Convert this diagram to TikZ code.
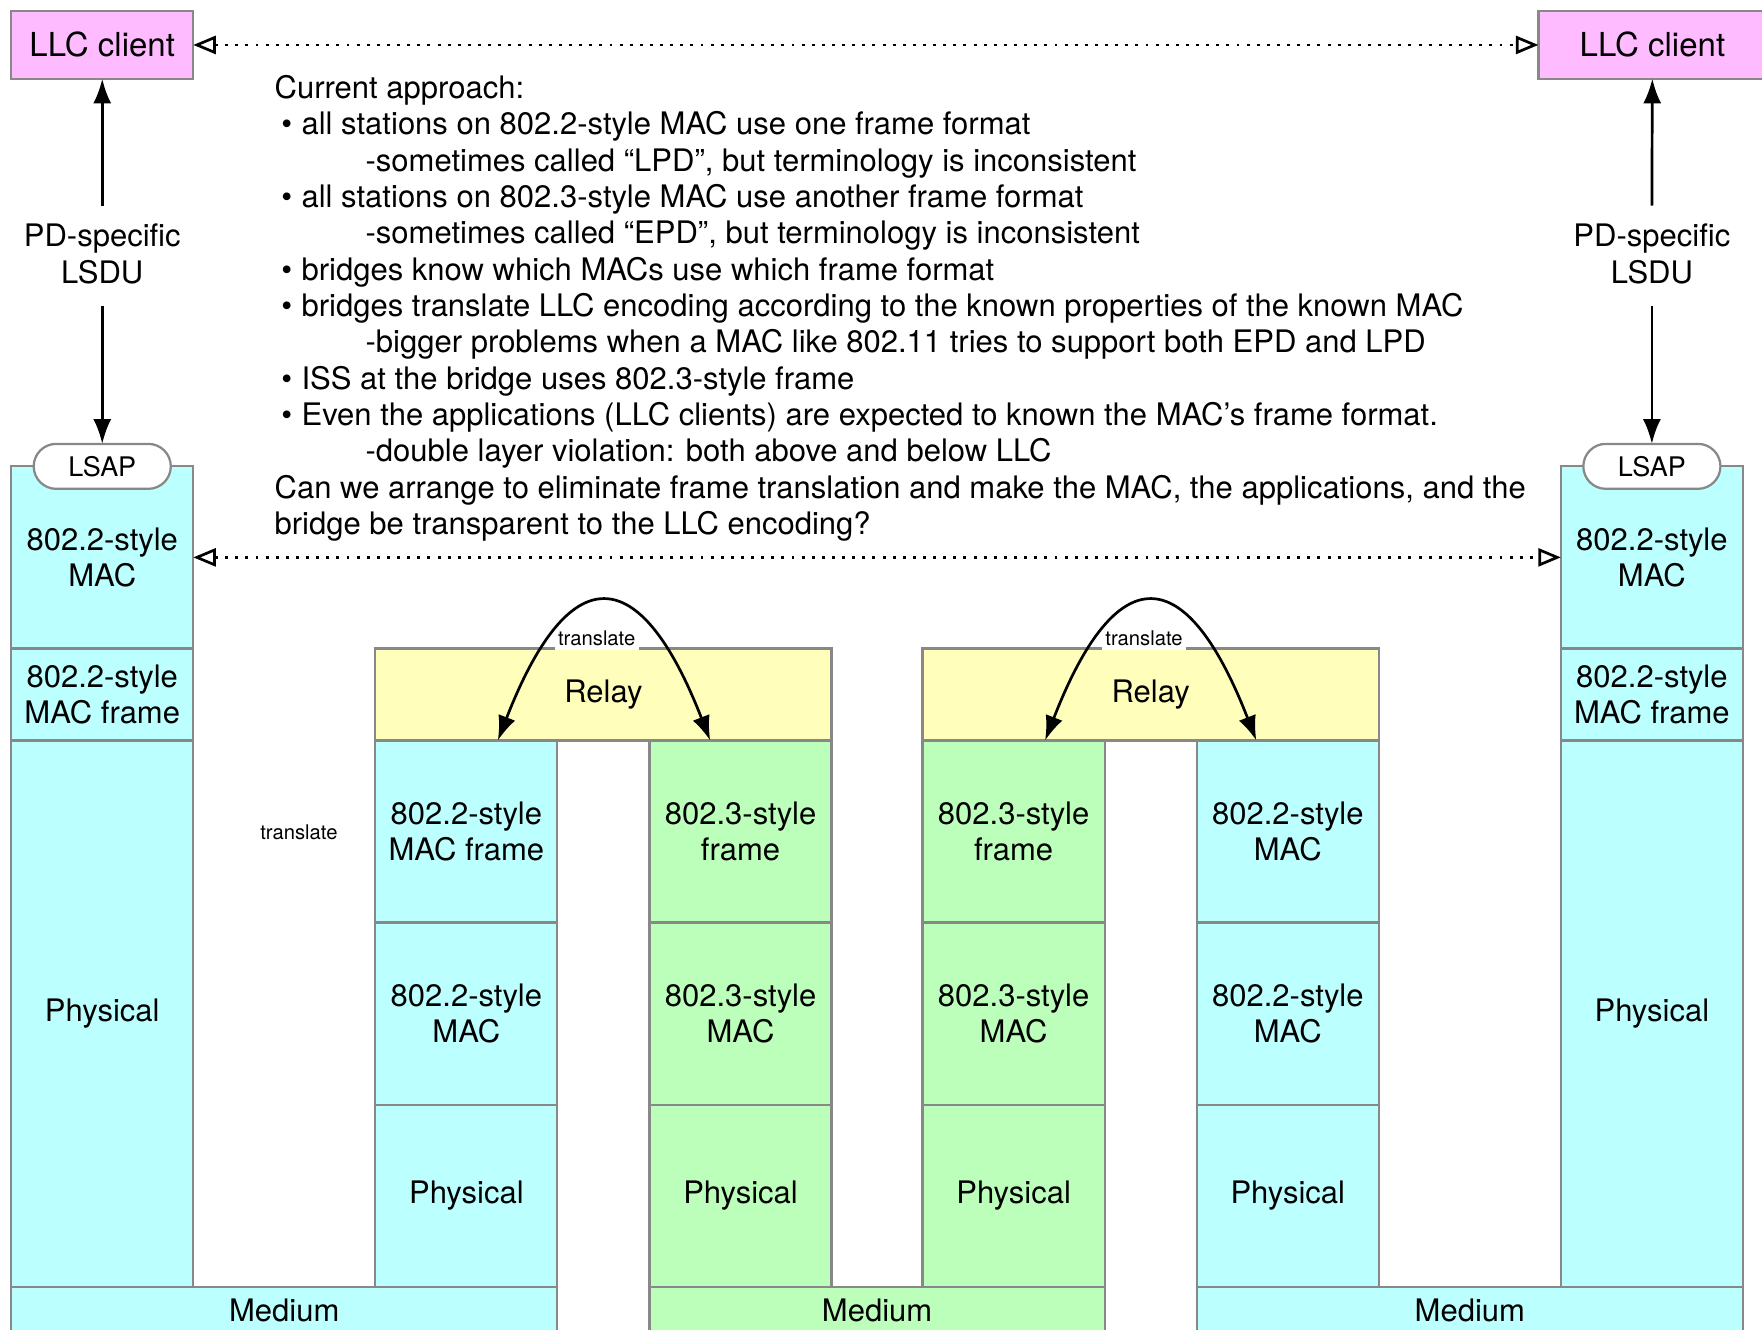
\documentclass[tikz,border=0pt]{standalone}
\usepackage{fontspec}
\setmainfont{TeX Gyre Heros}
\usetikzlibrary{arrows.meta}
\definecolor{pinkfill}{HTML}{FFBBFF}
\definecolor{cyanfill}{HTML}{BBFFFF}
\definecolor{greenfill}{HTML}{BBFFBB}
\definecolor{yellowfill}{HTML}{FFFFBB}
\definecolor{bordergray}{HTML}{888888}
\newcommand{\bodyfnt}{\fontsize{13.8}{16.2}\selectfont}
\newcommand{\smallfnt}{\fontsize{9}{10}\selectfont}
\tikzset{
  layer/.style={draw=bordergray, line width=1pt, inner sep=0pt, outer sep=0pt, align=center, font=\bodyfnt, text=black},
  colbox/.style={layer, minimum width=81pt},
  cyanbox/.style={colbox, fill=cyanfill},
  greenbox/.style={colbox, fill=greenfill},
  llcbox/.style={layer, fill=pinkfill, minimum height=30pt, font=\fontsize{14.7}{17}\selectfont},
  lsapbox/.style={draw=bordergray, line width=1pt, fill=white, rounded corners=10pt, minimum width=61pt, minimum height=20pt, inner sep=0pt, outer sep=0pt, font=\fontsize{12}{14}\selectfont},
  solidarrow/.style={line width=1.2pt, -{Latex[length=11pt,width=8pt]}},
  twoarrow/.style={line width=1.2pt, {Latex[length=11pt,width=8pt]}-{Latex[length=11pt,width=8pt]}},
  dotarrow/.style={line width=1.2pt, dash pattern=on 1.3pt off 3.2pt, {Triangle[open,length=10pt,width=8pt]}-{Triangle[open,length=10pt,width=8pt]}},
  bodytext/.style={anchor=base west, inner sep=0pt, font=\bodyfnt},
  trlabel/.style={fill=white, inner sep=1.5pt, font=\smallfnt},
  pdlabel/.style={align=center, inner sep=0pt, font=\bodyfnt}
}
\begin{document}
\begin{tikzpicture}[x=0.5pt,y=-0.5pt]
\useasboundingbox (0,0) rectangle (1568,1183);

% LLC clients
\node[llcbox, minimum width=81pt] (llcL) at (91,40) {LLC client};
\node[llcbox, minimum width=101.5pt] (llcR) at (1470.5,40) {LLC client};

% left station column
\node[cyanbox, minimum height=81pt] (lmac) at (91,496) {802.2-style\\MAC};
\node[cyanbox, minimum height=41pt] (lframe) at (91,618) {802.2-style\\MAC frame};
\node[cyanbox, minimum height=243pt] (lphys) at (91,902) {Physical};

% right station column
\node[cyanbox, minimum height=81pt] (rmac) at (1470,496) {802.2-style\\MAC};
\node[cyanbox, minimum height=41pt] (rframe) at (1470,618) {802.2-style\\MAC frame};
\node[cyanbox, minimum height=243pt] (rphys) at (1470,902) {Physical};

% bridge 1
\node[layer, fill=yellowfill, minimum width=203pt, minimum height=41pt] (relay1) at (537,618) {Relay};
\node[cyanbox, minimum height=81pt] (b1a1) at (415,740) {802.2-style\\MAC frame};
\node[cyanbox, minimum height=81pt] (b1a2) at (415,902) {802.2-style\\MAC};
\node[cyanbox, minimum height=81pt] (b1a3) at (415,1064) {Physical};
\node[greenbox, minimum height=81pt] (b1b1) at (659,740) {802.3-style\\frame};
\node[greenbox, minimum height=81pt] (b1b2) at (659,902) {802.3-style\\MAC};
\node[greenbox, minimum height=81pt] (b1b3) at (659,1064) {Physical};

% bridge 2
\node[layer, fill=yellowfill, minimum width=203pt, minimum height=41pt] (relay2) at (1024,618) {Relay};
\node[greenbox, minimum height=81pt] (b2a1) at (902,740) {802.3-style\\frame};
\node[greenbox, minimum height=81pt] (b2a2) at (902,902) {802.3-style\\MAC};
\node[greenbox, minimum height=81pt] (b2a3) at (902,1064) {Physical};
\node[cyanbox, minimum height=81pt] (b2b1) at (1146,740) {802.2-style\\MAC};
\node[cyanbox, minimum height=81pt] (b2b2) at (1146,902) {802.2-style\\MAC};
\node[cyanbox, minimum height=81pt] (b2b3) at (1146,1064) {Physical};

% media
\node[layer, fill=cyanfill, minimum width=243pt, minimum height=21pt] (med1) at (253,1166) {Medium};
\node[layer, fill=greenfill, minimum width=202.5pt, minimum height=21pt] (med2) at (780.5,1166) {Medium};
\node[layer, fill=cyanfill, minimum width=243pt, minimum height=21pt] (med3) at (1308,1166) {Medium};

% LSAPs
\node[lsapbox] (lsapL) at (91,415) {LSAP};
\node[lsapbox] (lsapR) at (1470,415) {LSAP};

% PD-specific LSDU
\node[pdlabel] (pdL) at (91,226) {PD-specific\\LSDU};
\node[pdlabel] (pdR) at (1470,226) {PD-specific\\LSDU};
\coordinate (pdLt) at (91,183);
\coordinate (pdLb) at (91,272);
\coordinate (pdRt) at (1470,183);
\coordinate (pdRb) at (1470,272);
\draw[solidarrow] (pdLt) -- (llcL);
\draw[solidarrow] (pdLb) -- (lsapL);
\draw[solidarrow] (pdRt) -- (llcR);
\draw[solidarrow] (pdRb) -- (lsapR);

% dotted peer arrows
\draw[dotarrow] (llcL) -- (llcR);
\draw[dotarrow] (lmac) -- (rmac);

% translate labels and arcs
\node[trlabel, anchor=south] (tl1) at (531,578.5) {translate};
\node[trlabel, anchor=south] (tl2) at (1018,578.5) {translate};
\node[font=\smallfnt, inner sep=0pt] (tl0) at (266,741) {translate};
\coordinate (tr1a) at (443,659);
\coordinate (tr1b) at (632,659);
\coordinate (tr2a) at (930,659);
\coordinate (tr2b) at (1118,659);
\draw[twoarrow] (tr1a) .. controls (506,497) and (569,497) .. (tr1b);
\draw[twoarrow] (tr2a) .. controls (993,497) and (1055,497) .. (tr2b);

% text block
\node[bodytext] (t1) at (244,87.5) {Current approach:};
\node[bodytext] (t2) at (250,119.8) {\makebox[9pt][l]{•}all stations on 802.2-style MAC use one frame format};
\node[bodytext] (t3) at (325,152.2) {-sometimes called “LPD”, but terminology is inconsistent};
\node[bodytext] (t4) at (250,184.5) {\makebox[9pt][l]{•}all stations on 802.3-style MAC use another frame format};
\node[bodytext] (t5) at (325,216.8) {-sometimes called “EPD”, but terminology is inconsistent};
\node[bodytext] (t6) at (250,249.2) {\makebox[9pt][l]{•}bridges know which MACs use which frame format};
\node[bodytext] (t7) at (250,281.5) {\makebox[9pt][l]{•}bridges translate LLC encoding according to the known properties of the known MAC};
\node[bodytext] (t8) at (325,313.8) {-bigger problems when a MAC like 802.11 tries to support both EPD and LPD};
\node[bodytext] (t9) at (250,346.2) {\makebox[9pt][l]{•}ISS at the bridge uses 802.3-style frame};
\node[bodytext] (t10) at (250,378.5) {\makebox[9pt][l]{•}Even the applications (LLC clients) are expected to known the MAC’s frame format.};
\node[bodytext] (t11) at (325,410.8) {-double layer violation: both above and below LLC};
\node[bodytext] (t12) at (244,443.2) {Can we arrange to eliminate frame translation and make the MAC, the applications, and the};
\node[bodytext] (t13) at (244,475.5) {bridge be transparent to the LLC encoding?};
\end{tikzpicture}
\end{document}
